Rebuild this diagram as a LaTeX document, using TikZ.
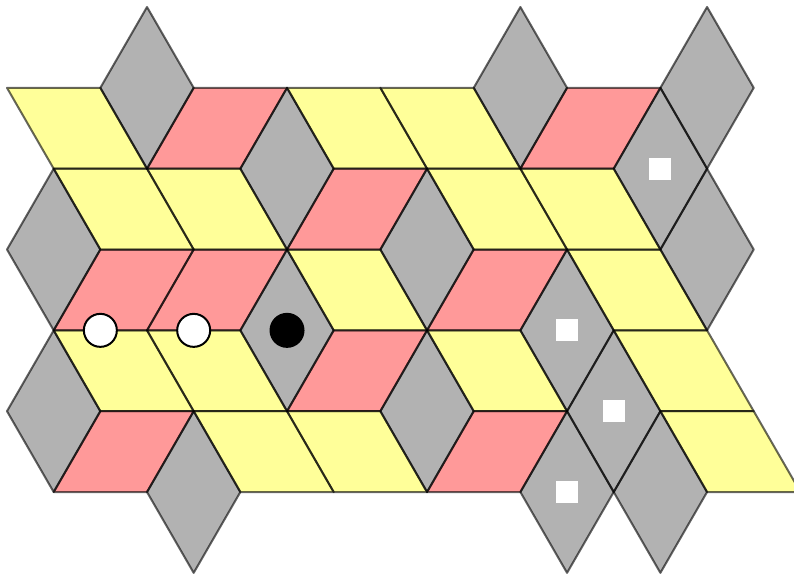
\documentclass[tikz,border=0pt]{standalone}
\usepackage{tikz}
\definecolor{tileyellow}{HTML}{FFFF99}
\definecolor{tilered}{HTML}{FF9999}
\definecolor{tilegray}{HTML}{B2B2B2}
% tile positions (top corner of each tile in the triangular lattice)
\newcommand{\yellowtiles}{0/1, 6/1, 8/1, 1/2, 3/2, 9/2, 11/2, 6/3, 12/3, 1/4, 3/4, 9/4, 13/4, 4/5, 6/5, 14/5}
\newcommand{\redtiles}{4/1, 12/1, 7/2, 2/3, 4/3, 10/3, 7/4, 2/5, 10/5}
\newcommand{\graytiles}{3/0, 11/0, 15/0, 6/1, 14/1, 1/2, 9/2, 15/2, 6/3, 12/3, 1/4, 9/4, 13/4, 4/5, 12/5, 14/5}

\begin{document}
\begin{tikzpicture}[x=0.9333cm, y=-1.6166cm,
		edge/.style={draw=black, draw opacity=0.6, line width=0.04cm, line join=round},
		marker/.style={draw=black, line width=0.04cm}]
				\useasboundingbox (-0.15,-0.0866) rectangle (16.863,7.0147);
				\clip (-0.15,-0.0866) rectangle (16.863,7.0147);
				% fills
				\foreach \i/\j in \yellowtiles
					\fill[tileyellow] (\i,\j) -- ++(2,0) -- ++(1,1) -- ++(-2,0) -- cycle;
				\foreach \i/\j in \redtiles
					\fill[tilered] (\i,\j) -- ++(2,0) -- ++(-1,1) -- ++(-2,0) -- cycle;
				\foreach \i/\j in \graytiles
					\fill[tilegray] (\i,\j) -- ++(1,1) -- ++(-1,1) -- ++(-1,-1) -- cycle;

				% outlines
				\foreach \i/\j in \yellowtiles
					\draw[edge] (\i,\j) -- ++(2,0) -- ++(1,1) -- ++(-2,0) -- cycle;
				\foreach \i/\j in \redtiles
					\draw[edge] (\i,\j) -- ++(2,0) -- ++(-1,1) -- ++(-2,0) -- cycle;
				\foreach \i/\j in \graytiles
					\draw[edge] (\i,\j) -- ++(1,1) -- ++(-1,1) -- ++(-1,-1) -- cycle;

				% markers
				\foreach \i in {2, 4}
					\filldraw[marker, fill=white] (\i,4) circle (0.33cm);
				\filldraw[marker, fill=black] (6,4) circle (0.33cm);
				\foreach \i/\j in {14/2, 12/4, 13/5, 12/6}
					\fill[white] (\i,\j) ++(-0.22cm,-0.22cm) rectangle ++(0.44cm,0.44cm);
			\end{tikzpicture}
\end{document}
